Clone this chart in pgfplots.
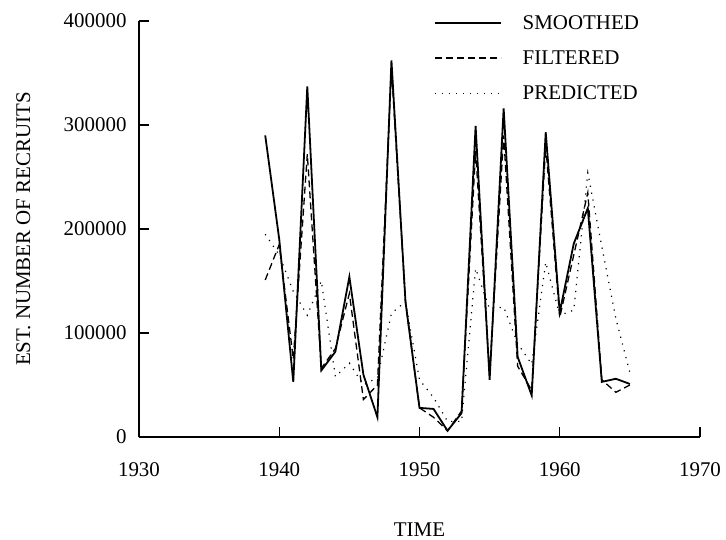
\documentclass[border=0pt]{standalone}
\usepackage{fontspec}
\setmainfont{Liberation Serif}
\usepackage{pgfplots}
\pgfplotsset{compat=1.18}
\begin{document}
\begin{tikzpicture}
\useasboundingbox (0,0) rectangle (726bp,540bp);
\begin{axis}[
  at={(139bp,103bp)}, anchor=south west,
  scale only axis, width=561bp, height=416bp,
  xmin=1930, xmax=1970, ymin=0, ymax=400000,
  axis lines=left, axis line style={-, line width=1.2bp},
  xtick={1930,1940,...,1970}, ytick={0,100000,...,400000},
  tick align=inside, major tick length=10bp, tick style={line width=1.2bp, black},
  scaled y ticks=false, scaled x ticks=false,
  /pgf/number format/fixed,
  /pgf/number format/precision=0,
  /pgf/number format/1000 sep={},
  /pgf/number format/assume math mode=true,
  tick label style={font=\fontsize{21}{25}\selectfont},
  xticklabel style={yshift=-22bp},
  yticklabel style={xshift=-9bp},
  label style={font=\fontsize{21}{25}\selectfont},
  xlabel={TIME},
  xlabel style={at={(axis description cs:0.5,-0.222)}, anchor=center},
  ylabel={EST. NUMBER OF RECRUITS},
  ylabel style={at={(axis description cs:-0.206,0.5)}, anchor=center},
  legend style={draw=none, fill=none, font=\fontsize{21}{25}\selectfont,
    at={(axis description cs:0.52,1)}, anchor=north west, yshift=10bp,
    row sep=16bp, /tikz/every odd column/.append style={column sep=19bp}},
  legend cell align=left,
  legend image code/.code={\draw[#1] (0bp,0bp) -- (66bp,0bp);},
]
\addplot[black, line width=1.8bp] coordinates {
(1939,290000) (1940,190000) (1941,53000) (1942,337000) (1943,64000)
(1944,82000) (1945,154000) (1946,60000) (1947,19000) (1948,362000)
(1949,130000) (1950,28000) (1951,27000) (1952,6000) (1953,23000)
(1954,299000) (1955,55000) (1956,316000) (1957,77000) (1958,40000)
(1959,293000) (1960,120000) (1961,186000) (1962,220000) (1963,53000)
(1964,56000) (1965,51000)};
\addlegendentry{SMOOTHED}
\addplot[black, line width=1.3bp, dash pattern=on 7bp off 4bp] coordinates {
(1939,151000) (1940,185000) (1941,75000) (1942,272000) (1943,66000)
(1944,85000) (1945,138000) (1946,36000) (1947,50000) (1948,355000)
(1949,130000) (1950,28000) (1951,19000) (1952,6000) (1953,25000)
(1954,275000) (1955,60000) (1956,290000) (1957,68000) (1958,45000)
(1959,280000) (1960,115000) (1961,175000) (1962,235000) (1963,55000)
(1964,43000) (1965,50000)};
\addlegendentry{FILTERED}
\addplot[black, line width=1.2bp, dash pattern=on 1.2bp off 5.8bp] coordinates {
(1939,195000) (1940,175000) (1941,140000) (1942,117000) (1943,150000)
(1944,58000) (1945,71000) (1946,50000) (1947,57000) (1948,119000)
(1949,130000) (1950,55000) (1951,38000) (1952,15000) (1953,15000)
(1954,162000) (1955,123000) (1956,125000) (1957,90000) (1958,70000)
(1959,168000) (1960,117000) (1961,122000) (1962,254000) (1963,183000)
(1964,114000) (1965,62000)};
\addlegendentry{PREDICTED}
\end{axis}
\end{tikzpicture}
\end{document}
